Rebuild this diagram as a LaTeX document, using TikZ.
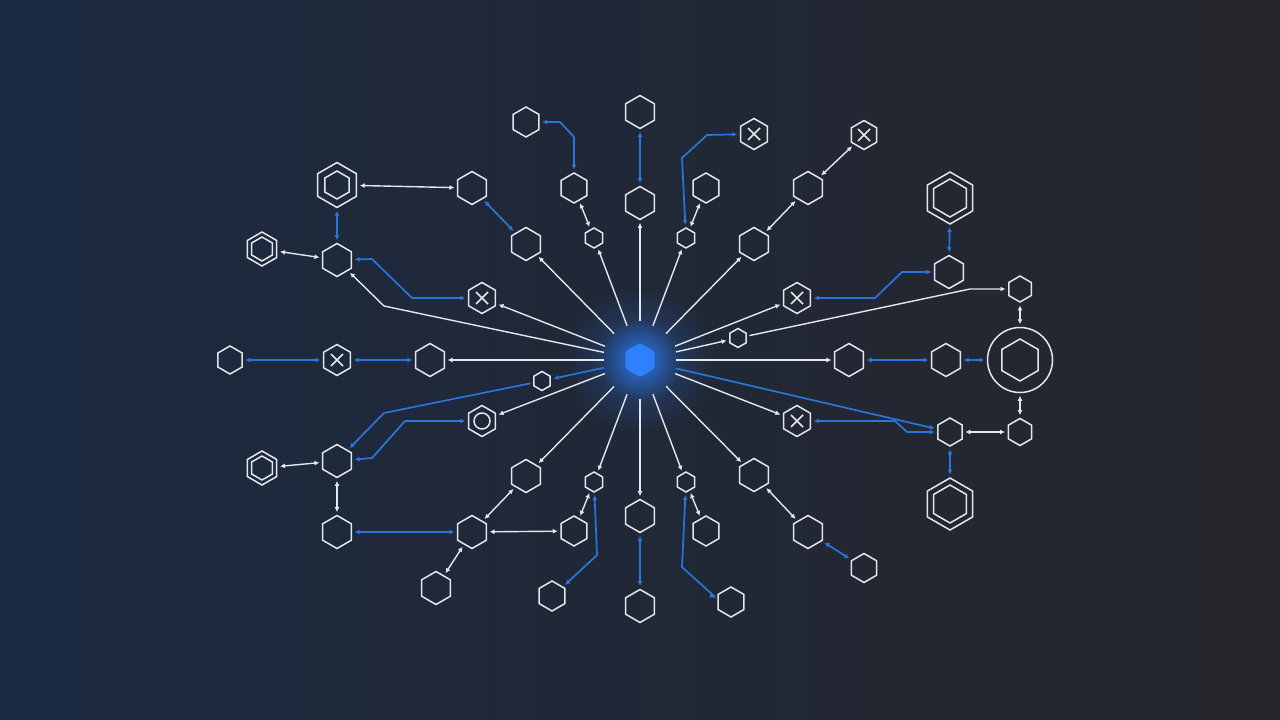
\documentclass[tikz,border=0pt]{standalone}
\usetikzlibrary{shapes.geometric,arrows.meta,fadings}

\definecolor{bgleft}{RGB}{28,42,66}
\definecolor{bgmid}{RGB}{31,36,50}
\definecolor{bgright}{RGB}{37,38,43}
\definecolor{linewhite}{RGB}{228,231,238}
\definecolor{linkblue}{RGB}{40,118,220}
\definecolor{hubblue}{RGB}{46,128,255}

\tikzfading[name=glowfade, inner color=transparent!0, outer color=transparent!100]

\tikzset{
  hex/.style={regular polygon, regular polygon sides=6, shape border rotate=30,
    draw=linewhite, line width=1.5pt, inner sep=0pt, minimum size=#1},
  hex/.default=33pt,
  crosshex/.style={hex=#1, path picture={
      \draw[linewhite, line width=1.5pt]
        ([shift={(-6pt,-6pt)}]path picture bounding box.center) -- ([shift={(6pt,6pt)}]path picture bounding box.center)
        ([shift={(-6pt,6pt)}]path picture bounding box.center) -- ([shift={(6pt,-6pt)}]path picture bounding box.center);}},
  crosshex/.default=31pt,
  ringhex/.style={hex=#1, path picture={
      \draw[linewhite, line width=1.5pt] (path picture bounding box.center) circle (8pt);}},
  ringhex/.default=31pt,
  link/.style={draw=linewhite, line width=1.4pt, line join=round,
    {Latex[length=5pt,width=5pt]}-{Latex[length=5pt,width=5pt]},
    shorten <=2.5pt, shorten >=2.5pt},
  bluelink/.style={link, draw=linkblue, line width=1.7pt},
  oneway/.style={link, -{Latex[length=5pt,width=5pt]}},
  oneblue/.style={bluelink, -{Latex[length=5pt,width=5pt]}},
  ray/.style={draw=linewhite, line width=1.4pt, line join=round,
    -{Latex[length=5pt,width=5pt]}, shorten <=21pt, shorten >=2.5pt},
  blueray/.style={ray, draw=linkblue, line width=1.7pt}
}

\begin{document}
\begin{tikzpicture}[x=1pt,y=-1pt]
  \useasboundingbox (0,0) rectangle (1280,720);
  \shade[left color=bgleft, middle color=bgmid, right color=bgright] (0,0) rectangle (1280,720);

  % glow behind the hub
  \fill[hubblue, path fading=glowfade, fill opacity=0.35] (640,360) circle (75pt);
  \fill[hubblue, path fading=glowfade, fill opacity=0.75] (640,360) circle (42pt);

  % hub
  \node[hex=34pt, draw=none, fill=hubblue, rounded corners=2pt] (hub) at (640,360) {};

  % top
  \node[hex=30pt] (t1) at (526,122) {};
  \node[hex] (t2) at (640,112) {};
  \node[crosshex] (t3) at (754,134) {};
  \node[crosshex=29pt] (t4) at (864,135) {};
  \node[hex=30pt] (t5) at (574,188) {};
  \node[hex] (t6) at (640,203) {};
  \node[hex=30pt] (t7) at (706,188) {};
  \node[hex] (t8) at (808,188) {};
  \node[hex=20pt] (t9) at (594,238) {};
  \node[hex=20pt] (t10) at (686,238) {};
  \node[hex] (t11) at (526,244) {};
  \node[hex] (t12) at (754,244) {};
  \node[hex] (t13) at (472,188) {};

  % left
  \node[hex=45pt] (l1) at (337,185) {};
  \node[hex=28pt] (l1in) at (l1) {};
  \node[hex=34pt] (l2) at (262,249) {};
  \node[hex=24pt] (l2in) at (l2) {};
  \node[hex] (l3) at (337,260) {};
  \node[crosshex] (l4) at (482,298) {};
  \node[hex=28pt] (l5) at (230,360) {};
  \node[crosshex] (l6) at (337,360) {};
  \node[hex] (l7) at (430,360) {};
  \node[hex=19pt] (l8) at (542,381) {};
  \node[ringhex] (l9) at (482,421) {};
  \node[hex=34pt] (l10) at (262,468) {};
  \node[hex=24pt] (l10in) at (l10) {};
  \node[hex] (l11) at (337,461) {};
  \node[hex] (l12) at (337,532) {};

  % bottom
  \node[hex] (b1) at (526,476) {};
  \node[hex] (b2) at (472,532) {};
  \node[hex=30pt] (b3) at (574,531) {};
  \node[hex=20pt] (b4) at (594,482) {};
  \node[hex=20pt] (b5) at (686,482) {};
  \node[hex] (b6) at (640,516) {};
  \node[hex=30pt] (b7) at (706,531) {};
  \node[hex] (b8) at (436,588) {};
  \node[hex=30pt] (b9) at (552,596) {};
  \node[hex] (b10) at (640,606) {};
  \node[hex=30pt] (b11) at (731,602) {};
  \node[hex] (b12) at (754,475) {};
  \node[hex] (b13) at (808,532) {};
  \node[hex=29pt] (b14) at (864,568) {};

  % right
  \node[crosshex] (r1) at (797,421) {};
  \node[hex=28pt] (r2) at (950,432) {};
  \node[hex=27pt] (r3) at (1020,432) {};
  \node[hex=52pt] (r4) at (950,504) {};
  \node[hex=38pt] (r4in) at (r4) {};
  \node[crosshex] (r5) at (797,298) {};
  \node[hex=19pt] (r6) at (738,338) {};
  \node[hex] (r7) at (849,360) {};
  \node[hex] (r8) at (946,360) {};
  \node[circle, draw=linewhite, line width=1.5pt, minimum size=65pt] (r9) at (1020,360) {};
  \node[hex=42pt] (r9in) at (r9) {};
  \node[hex=26pt] (r10) at (1020,289) {};
  \node[hex] (r11) at (949,272) {};
  \node[hex=52pt] (r12) at (950,198) {};
  \node[hex=38pt] (r12in) at (r12) {};

  % rays out of the hub
  \foreach \n in {t6,t9,t10,t11,t12,l4,l7,l9,b1,b4,b5,b6,b12,r1,r5,r6,r7}
    \draw[ray] (hub) -- (\n);
  \draw[blueray] (hub) -- (l8);
  \draw[blueray] (hub) -- (r2);
  \draw[ray] (hub) -- (384,306) -- (l3);

  % top links
  \draw[bluelink] (t6) -- (t2);
  \draw[bluelink] (t5) -- (574,137) -- (560,122) -- (t1);
  \draw[link] (t5) -- (t9);
  \draw[link] (t10) -- (t7);
  \draw[bluelink] (t10) -- (682,158) -- (707,135) -- (t3);
  \draw[link] (t12) -- (t8);
  \draw[link] (t8) -- (t4);
  \draw[bluelink] (t13) -- (t11);

  % left links
  \draw[link] (l1) -- (t13);
  \draw[bluelink] (l1) -- (l3);
  \draw[link] (l2) -- (l3);
  \draw[bluelink] (l3) -- (372,259) -- (412,298) -- (l4);
  \draw[bluelink] (l5) -- (l6);
  \draw[bluelink] (l6) -- (l7);
  \draw[oneblue] (l8) -- (384,413) -- (l11);
  \draw[bluelink] (l9) -- (405,421) -- (372,458) -- (l11);
  \draw[link] (l10) -- (l11);
  \draw[link] (l11) -- (l12);

  % bottom links
  \draw[bluelink] (l12) -- (b2);
  \draw[link] (b2) -- (b1);
  \draw[link] (b2) -- (b8);
  \draw[link] (b2) -- (b3);
  \draw[link] (b3) -- (b4);
  \draw[bluelink] (b4) -- (597,555) -- (567,583) -- (b9);
  \draw[bluelink] (b6) -- (b10);
  \draw[link] (b5) -- (b7);
  \draw[bluelink] (b5) -- (682,567) -- (715,597) -- (b11);
  \draw[link] (b12) -- (b13);
  \draw[bluelink] (b13) -- (b14);

  % right links
  \draw[bluelink] (r5) -- (875,298) -- (902,272) -- (r11);
  \draw[bluelink] (r11) -- (r12);
  \draw[oneway] (r6) -- (970,289) -- (r10);
  \draw[link] (r10) -- (r9);
  \draw[bluelink] (r7) -- (r8);
  \draw[bluelink] (r8) -- (r9);
  \draw[link] (r9) -- (r3);
  \draw[link] (r2) -- (r3);
  \draw[bluelink] (r2) -- (r4);
  \draw[bluelink] (r1) -- (895,421) -- (907,432) -- (r2);
\end{tikzpicture}
\end{document}
